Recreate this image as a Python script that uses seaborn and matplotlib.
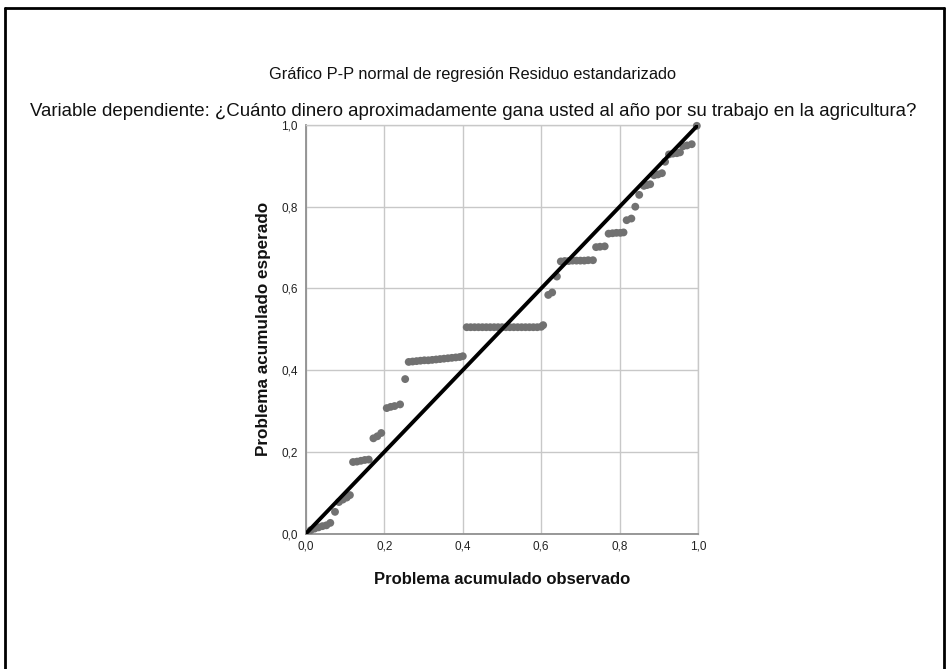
import matplotlib
matplotlib.use("Agg")
import matplotlib.pyplot as plt
import seaborn as sns
import pandas as pd
from matplotlib.lines import Line2D
from matplotlib.ticker import FixedLocator

# ---- data ----
observed = [0.012, 0.022, 0.032, 0.042, 0.052, 0.062, 0.074, 0.084, 0.094, 0.104, 0.112,
            0.120, 0.130, 0.140, 0.150, 0.160, 0.172, 0.182, 0.192,
            0.206, 0.216, 0.226, 0.240, 0.253,
            0.262, 0.272, 0.282, 0.292, 0.302, 0.312, 0.322, 0.332, 0.342, 0.352,
            0.362, 0.372, 0.382, 0.392, 0.400,
            0.410, 0.420, 0.430, 0.440, 0.450, 0.460, 0.470, 0.480, 0.490, 0.500,
            0.510, 0.520, 0.530, 0.540, 0.550, 0.560, 0.570, 0.580, 0.590, 0.600, 0.605,
            0.618, 0.628, 0.640,
            0.650, 0.660, 0.670, 0.680, 0.690, 0.700, 0.710, 0.720, 0.732,
            0.740, 0.750, 0.762,
            0.772, 0.782, 0.792, 0.802, 0.810,
            0.818, 0.830, 0.840, 0.850,
            0.862, 0.870, 0.878,
            0.888, 0.898, 0.908, 0.916,
            0.926, 0.936, 0.946, 0.954,
            0.962, 0.972, 0.984, 0.997]
expected = [0.008, 0.012, 0.015, 0.018, 0.020, 0.026, 0.053, 0.077, 0.083, 0.088, 0.094,
            0.175, 0.176, 0.178, 0.180, 0.181, 0.233, 0.238, 0.246,
            0.307, 0.310, 0.312, 0.316, 0.378,
            0.420, 0.421, 0.422, 0.423, 0.424, 0.424, 0.425, 0.426, 0.427, 0.428,
            0.429, 0.430, 0.431, 0.432, 0.434,
            0.505, 0.505, 0.505, 0.505, 0.505, 0.505, 0.505, 0.505, 0.505, 0.505,
            0.505, 0.505, 0.505, 0.505, 0.505, 0.505, 0.505, 0.505, 0.505, 0.506, 0.510,
            0.584, 0.590, 0.629,
            0.666, 0.667, 0.667, 0.668, 0.668, 0.668, 0.668, 0.669, 0.669,
            0.701, 0.702, 0.703,
            0.734, 0.735, 0.736, 0.736, 0.737,
            0.767, 0.771, 0.800, 0.829,
            0.851, 0.853, 0.855,
            0.877, 0.879, 0.882, 0.910,
            0.928, 0.930, 0.931, 0.933,
            0.948, 0.950, 0.953, 0.998]
diag = [0.0, 1.0]

title = "Gráfico P-P normal de regresión Residuo estandarizado"
subtitle = "Variable dependiente: ¿Cuánto dinero aproximadamente gana usted al año por su trabajo en la agricultura?"
xlabel = "Problema acumulado observado"
ylabel = "Problema acumulado esperado"
tick_vals = [0.0, 0.2, 0.4, 0.6, 0.8, 1.0]
tick_labels = ["0,0", "0,2", "0,4", "0,6", "0,8", "1,0"]

sns.set_theme(style="white")
plt.rcParams["font.family"] = ["Liberation Sans", "DejaVu Sans"]

W, H = 947, 669
fig = plt.figure(figsize=(W / 100, H / 100), dpi=100)
ax = fig.add_axes([306 / W, 1 - 533.5 / H, 392 / W, 408.5 / H])

df = pd.DataFrame({"obs": observed, "exp": expected})
sns.scatterplot(data=df, x="obs", y="exp", ax=ax, color="#717171", s=32,
                edgecolor="none", zorder=3, clip_on=False)
sns.lineplot(x=diag, y=diag, ax=ax, color="black", lw=2.8, zorder=4)

ax.set_xlim(0, 1)
ax.set_ylim(0, 1)
ax.xaxis.set_major_locator(FixedLocator(tick_vals))
ax.yaxis.set_major_locator(FixedLocator(tick_vals))
ax.set_xticklabels(tick_labels)
ax.set_yticklabels(tick_labels)
ax.tick_params(length=0, labelsize=8.5, colors="#222222")
ax.tick_params(axis="x", pad=5)
ax.tick_params(axis="y", pad=6)
ax.grid(True, color="#c8c8c8", lw=1.0)
ax.set_axisbelow(True)
for side in ["top", "right"]:
    ax.spines[side].set_color("#c8c8c8")
    ax.spines[side].set_linewidth(1.0)
for side in ["left", "bottom"]:
    ax.spines[side].set_color("#909090")
    ax.spines[side].set_linewidth(1.3)

ax.set_xlabel(xlabel, fontsize=12, fontweight="bold", labelpad=14, color="#111111")
ax.set_ylabel(ylabel, fontsize=12.3, fontweight="bold", labelpad=7, color="#111111")

fig.text(0.5 * (267 + 678) / W, 1 - 75 / H, title, ha="center", va="center",
         fontsize=11.8, color="#111111")
fig.text(473 / W, 1 - 111 / H, subtitle, ha="center", va="center",
         fontsize=13.4, color="#111111")

# outer frame (top, left, right)
for xs, ys in [([5 / W, 944 / W], [1 - 8 / H, 1 - 8 / H]),
               ([5 / W, 5 / W], [0, 1 - 8 / H]),
               ([944 / W, 944 / W], [0, 1 - 8 / H])]:
    fig.add_artist(Line2D(xs, ys, color="black", lw=2.0, transform=fig.transFigure))

fig.savefig("out.png", dpi=100, facecolor="white")
